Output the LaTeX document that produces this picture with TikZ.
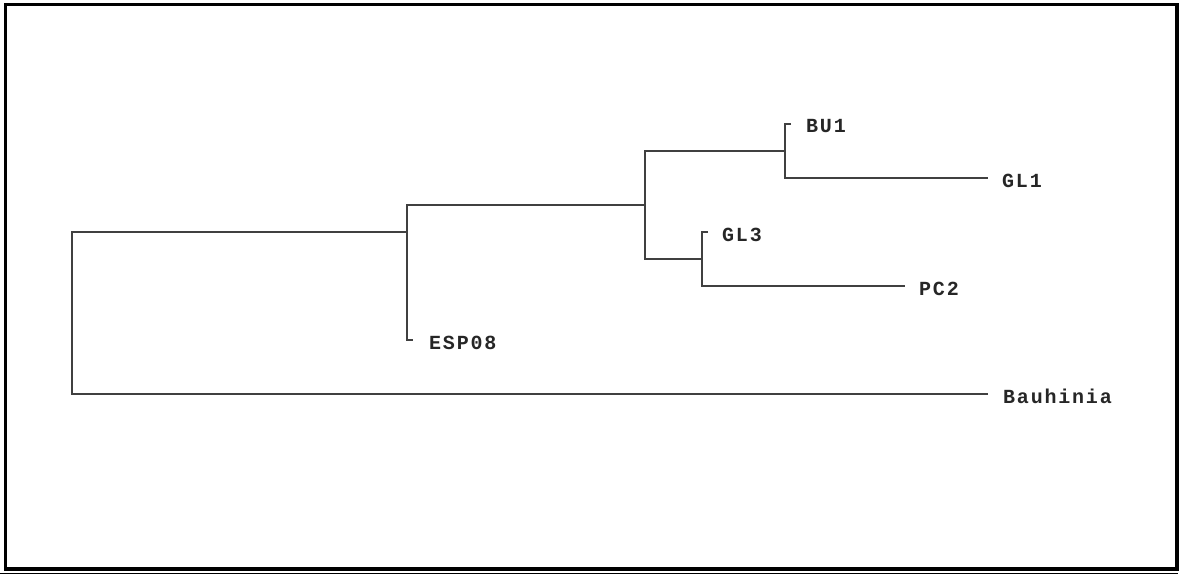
\documentclass[tikz,border=0pt]{standalone}
\usepackage{fontspec}
\newfontfamily\taxonfont[LetterSpace=9]{Liberation Mono}
\usetikzlibrary{positioning}

\begin{document}
\begin{tikzpicture}[x=1pt,y=-1pt,node distance=14pt,
      branch/.style={draw=black!75,line width=1.7pt},
      taxon/.style={font=\taxonfont\bfseries\fontsize{20}{20}\selectfont,text=black!85,inner sep=0pt,yshift=-2.5pt}]
      \useasboundingbox (0,0) rectangle (1180,574);
      % frame
      \draw[line width=3.3pt] (5.5,4.5) rectangle (1177,569);
      \draw[line width=1pt] (0,573) -- (1178,573);

      % inner nodes and tips
      \coordinate (n1) at (407,232);
      \coordinate (n2) at (645,205);
      \coordinate (n3) at (785,151);
      \coordinate (n4) at (702,259);
      \coordinate (bu1) at (791,124);
      \coordinate (gl1) at (988,178);
      \coordinate (gl3) at (708,232);
      \coordinate (pc2) at (905,286);
      \coordinate (esp) at (413,340);
      \coordinate (bau) at (988,394);

      \draw[branch] (bau) -| (72,232) -- (n1);
      \draw[branch] (n2) -| (esp -| n1) -- (esp);
      \draw[branch] (n3) -| (n2 |- n4) -- (n4);
      \draw[branch] (bu1) -| (n3 |- gl1) -- (gl1);
      \draw[branch] (gl3) -| (n4 |- pc2) -- (pc2);

      \node[taxon] (BU1) [right=15pt of bu1] {BU1};
      \node[taxon] (GL1) [right=of gl1] {GL1};
      \node[taxon] (GL3) [right=of gl3] {GL3};
      \node[taxon] (PC2) [right=of pc2] {PC2};
      \node[taxon] (ESP08) [right=16pt of esp] {ESP08};
      \node[taxon] (Bau) [right=15pt of bau] {Bauhinia};
    \end{tikzpicture}
\end{document}
